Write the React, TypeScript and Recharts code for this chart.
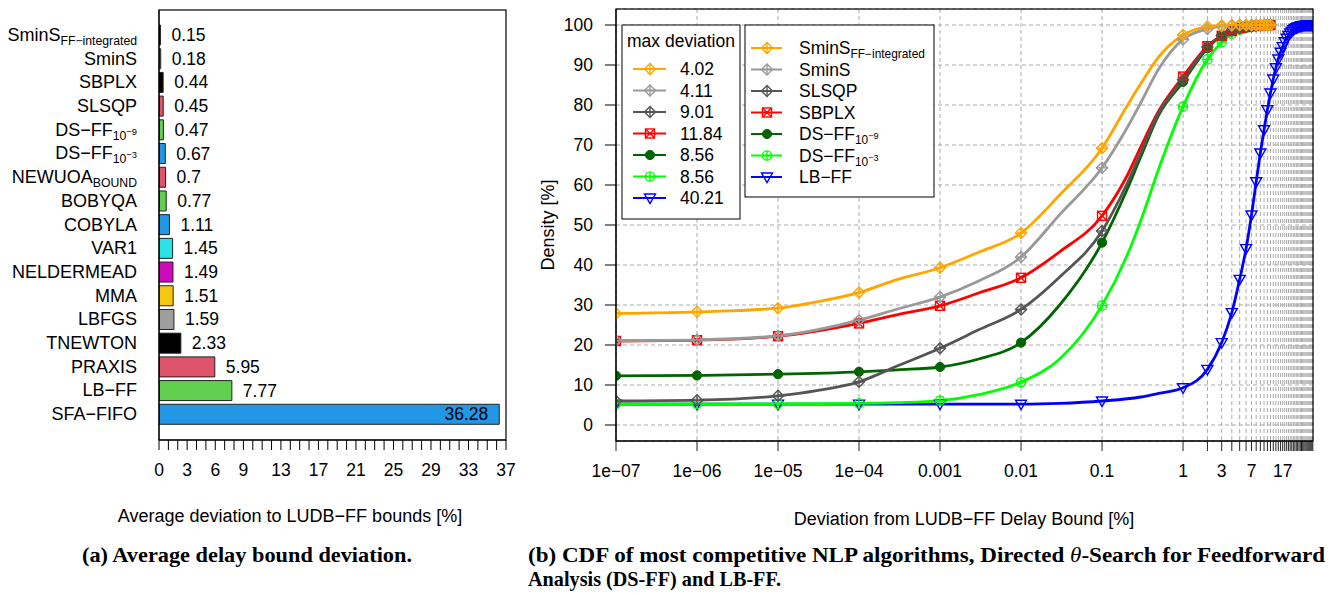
import React from 'react';
import { BarChart, Bar, XAxis, YAxis, Cell, LabelList, LineChart, Line, CartesianGrid } from 'recharts';

const FONT = '"Liberation Sans", Arial, Helvetica, sans-serif';
const SERIF = '"Liberation Serif", "Times New Roman", serif';

// ---------- Left panel data ----------
const BAR_CATEGORIES = [
  'SminS_FF−integrated', 'SminS', 'SBPLX', 'SLSQP', 'DS−FF_10^−9', 'DS−FF_10^−3',
  'NEWUOA_BOUND', 'BOBYQA', 'COBYLA', 'VAR1', 'NELDERMEAD', 'MMA', 'LBFGS',
  'TNEWTON', 'PRAXIS', 'LB−FF', 'SFA−FIFO',
];
const BAR_VALUES = [0.15, 0.18, 0.44, 0.45, 0.47, 0.67, 0.7, 0.77, 1.11, 1.45, 1.49, 1.51, 1.59, 2.33, 5.95, 7.77, 36.28];
const BAR_COLORS = [
  '#000000', '#9E9E9E', '#000000', '#DF536B', '#61D04F', '#2297E6', '#DF536B', '#61D04F',
  '#2297E6', '#28E2E5', '#CD0BBC', '#F5C710', '#9E9E9E', '#000000', '#DF536B', '#61D04F', '#2297E6',
];
const BAR_TICKS = Array.from({ length: 38 }, (_, i) => i);
const BAR_TICK_LABELS = [0, 3, 6, 9, 13, 17, 21, 25, 29, 33, 37];

// ---------- Right panel data ([deviation %, density %]) ----------
const SMINS_FF_CDF: [number, number][] = [
  [1e-7, 27.9], [1e-6, 28.3], [1e-5, 29.2], [3e-5, 30.8], [1e-4, 33.1], [3e-4, 36.4], [1e-3, 39.3],
  [3e-3, 43.2], [1e-2, 48.0], [3e-2, 57.5], [0.1, 69.2], [0.2, 79.5], [0.3, 85.3], [0.5, 92.0],
  [1, 97.5], [2, 99.6], [3, 99.9], [4, 100], [5, 100], [6, 100], [7, 100], [8, 100], [9, 100],
  [10, 100], [11, 100], [12, 100],
];
const SMINS_CDF: [number, number][] = [
  [1e-7, 21.1], [1e-6, 21.3], [1e-5, 22.3], [3e-5, 23.8], [1e-4, 26.2], [3e-4, 29.0], [1e-3, 32.0],
  [3e-3, 36.0], [1e-2, 42.0], [3e-2, 52.6], [0.1, 64.3], [0.2, 74.0], [0.3, 80.5], [0.5, 89.0],
  [1, 96.4], [2, 99.0], [3, 99.7], [4, 99.9], [5, 100], [6, 100], [7, 100], [8, 100], [9, 100],
  [10, 100], [11, 100], [12, 100],
];
const SLSQP_CDF: [number, number][] = [
  [1e-7, 6.0], [1e-6, 6.2], [1e-5, 7.3], [3e-5, 8.6], [1e-4, 10.8], [3e-4, 14.8], [1e-3, 19.2],
  [3e-3, 23.8], [1e-2, 28.9], [3e-2, 37.0], [0.1, 48.5], [0.2, 60.0], [0.3, 68.0], [0.5, 78.0],
  [1, 86.3], [2, 94.5], [3, 97.4], [4, 98.6], [5, 99.2], [6, 99.5], [7, 99.7], [8, 99.8], [9, 99.9],
  [10, 100], [11, 100], [12, 100],
];
const SBPLX_CDF: [number, number][] = [
  [1e-7, 21.0], [1e-6, 21.2], [1e-5, 22.2], [3e-5, 23.5], [1e-4, 25.4], [3e-4, 27.6], [1e-3, 29.8],
  [3e-3, 33.0], [1e-2, 36.8], [3e-2, 43.3], [0.1, 52.3], [0.2, 62.0], [0.3, 69.5], [0.5, 78.5],
  [1, 87.1], [2, 94.7], [3, 97.3], [4, 98.5], [5, 99.2], [6, 99.5], [7, 99.7], [8, 99.8], [9, 99.9],
  [10, 99.95], [11, 100], [12, 100],
];
const DSFF9_CDF: [number, number][] = [
  [1e-7, 12.3], [1e-6, 12.4], [1e-5, 12.7], [1e-4, 13.3], [3e-4, 13.8], [1e-3, 14.5],
  [3e-3, 16.5], [1e-2, 20.6], [3e-2, 30.0], [0.1, 45.6], [0.2, 58.5], [0.3, 67.0], [0.5, 77.5],
  [1, 85.8], [2, 94.2], [3, 97.3], [4, 98.6], [5, 99.3], [6, 99.6], [7, 99.8], [8, 99.9], [9, 100],
  [10, 100], [11, 100], [12, 100],
];
const DSFF3_CDF: [number, number][] = [
  [1e-7, 5.3], [1e-6, 5.3], [1e-5, 5.3], [1e-4, 5.4], [3e-4, 5.6], [1e-3, 6.1],
  [3e-3, 7.6], [1e-2, 10.7], [3e-2, 16.5], [0.1, 29.9], [0.2, 42.0], [0.3, 51.0], [0.5, 64.0],
  [1, 79.6], [2, 91.4], [3, 95.7], [4, 97.8], [5, 98.8], [6, 99.3], [7, 99.6], [8, 99.8], [9, 99.9],
  [10, 100], [11, 100], [12, 100],
];
const LBFF_CDF: [number, number][] = [
  [1e-7, 5.2], [1e-6, 5.2], [1e-5, 5.2], [1e-4, 5.2], [1e-3, 5.2], [1e-2, 5.2], [3e-2, 5.4],
  [0.1, 6.0], [0.3, 7.0], [0.5, 7.9], [1, 9.3], [2, 13.9], [3, 20.6], [4, 28.1], [5, 36.4],
  [6, 44.1], [7, 52.5], [8, 60.8], [9, 68.0], [10, 73.8], [11, 78.8], [12, 83.0], [13, 86.5],
  [14, 89.3], [15, 91.5], [16, 93.2], [17, 94.6], [18, 95.8], [19, 96.7], [20, 97.4], [21, 98.0],
  [22, 98.4], [23, 98.8], [24, 99.1], [25, 99.3], [26, 99.5], [27, 99.6], [28, 99.7], [29, 99.8],
  [30, 99.85], [31, 99.9], [32, 99.9], [33, 99.95], [34, 100], [35, 100], [36, 100], [37, 100],
  [38, 100], [39, 100], [40, 100], [40.21, 100],
];

const SERIES_DATA = [SMINS_FF_CDF, SMINS_CDF, SLSQP_CDF, SBPLX_CDF, DSFF9_CDF, DSFF3_CDF, LBFF_CDF];
const SERIES_NAMES = ['SminS_FF−integrated', 'SminS', 'SLSQP', 'SBPLX', 'DS−FF_10^−9', 'DS−FF_10^−3', 'LB−FF'];
const SERIES_MAX_DEV = ['4.02', '4.11', '9.01', '11.84', '8.56', '8.56', '40.21'];
const SERIES_COLORS = ['#FFA500', '#999999', '#555555', '#FF0000', '#006400', '#00FF00', '#0000FF'];
const SERIES_MARKERS = ['diamondPlus', 'diamondPlus', 'diamondPlus', 'squareX', 'dot', 'circlePlus', 'triDown'];

const CDF_DECADES = [1e-7, 1e-6, 1e-5, 1e-4, 1e-3, 1e-2, 1e-1];
const CDF_INTEGERS = Array.from({ length: 40 }, (_, i) => i + 1);
const CDF_TICKS = [...CDF_DECADES, ...CDF_INTEGERS];
const CDF_LABEL_VALUES = [1e-7, 1e-6, 1e-5, 1e-4, 1e-3, 1e-2, 1e-1, 1, 3, 7, 17];
const CDF_LABEL_TEXTS = ['1e−07', '1e−06', '1e−05', '1e−04', '0.001', '0.01', '0.1', '1', '3', '7', '17'];
const Y_TICKS = [0, 10, 20, 30, 40, 50, 60, 70, 80, 90, 100];

// ---------- helpers ----------
const near = (a: number, b: number) => Math.abs(a - b) <= Math.abs(b) * 1e-9;
const isMarkerX = (x: number) => CDF_TICKS.some((t) => near(x, t));

function richText(str: string, x: number, y: number, anchor: string, fs: number, key?: string) {
  const [main, rest] = str.split('_');
  let sub: string | undefined;
  let sup: string | undefined;
  if (rest) {
    [sub, sup] = rest.split('^');
  }
  return (
    <text key={key} x={x} y={y} textAnchor={anchor} fontSize={fs} fontFamily={FONT} fill="#000">
      <tspan>{main}</tspan>
      {sub && <tspan dy={4} fontSize={fs * 0.68}>{sub}</tspan>}
      {sup && <tspan dy={-5} fontSize={fs * 0.52}>{sup}</tspan>}
    </text>
  );
}

function drawMarker(kind: string, cx: number, cy: number, color: string) {
  const sw = 1.4;
  switch (kind) {
    case 'diamondPlus': {
      const r = 5.5;
      return (
        <g>
          <polygon points={`${cx},${cy - r} ${cx + r},${cy} ${cx},${cy + r} ${cx - r},${cy}`} fill="none" stroke={color} strokeWidth={sw} />
          <line x1={cx - r} y1={cy} x2={cx + r} y2={cy} stroke={color} strokeWidth={sw} />
          <line x1={cx} y1={cy - r} x2={cx} y2={cy + r} stroke={color} strokeWidth={sw} />
        </g>
      );
    }
    case 'squareX': {
      const h = 4.5;
      return (
        <g>
          <rect x={cx - h} y={cy - h} width={2 * h} height={2 * h} fill="none" stroke={color} strokeWidth={sw} />
          <line x1={cx - h} y1={cy - h} x2={cx + h} y2={cy + h} stroke={color} strokeWidth={sw} />
          <line x1={cx - h} y1={cy + h} x2={cx + h} y2={cy - h} stroke={color} strokeWidth={sw} />
        </g>
      );
    }
    case 'dot':
      return <circle cx={cx} cy={cy} r={4.6} fill={color} stroke={color} strokeWidth={1} />;
    case 'circlePlus': {
      const r = 4.6;
      return (
        <g>
          <circle cx={cx} cy={cy} r={r} fill="none" stroke={color} strokeWidth={sw} />
          <line x1={cx - r} y1={cy} x2={cx + r} y2={cy} stroke={color} strokeWidth={sw} />
          <line x1={cx} y1={cy - r} x2={cx} y2={cy + r} stroke={color} strokeWidth={sw} />
        </g>
      );
    }
    case 'triDown':
    default:
      return (
        <polygon
          points={`${cx - 5.5},${cy - 4} ${cx + 5.5},${cy - 4} ${cx},${cy + 5.5}`}
          fill="none"
          stroke={color}
          strokeWidth={sw}
        />
      );
  }
}

const makeDot = (kind: string, color: string) => (props: any) => {
  const { cx, cy, payload, index } = props;
  if (cx == null || cy == null || !payload || !isMarkerX(payload.x)) return <g key={`e${index}`} />;
  return <g key={`m${index}`}>{drawMarker(kind, cx, cy, color)}</g>;
};

// ---------- axis ticks ----------
const BarXTick = (props: any) => {
  const { x, y, payload } = props;
  if (!BAR_TICK_LABELS.includes(payload.value)) return <g />;
  return (
    <text x={x} y={y + 24} textAnchor="middle" fontSize={17.5} fontFamily={FONT} fill="#000">
      {payload.value}
    </text>
  );
};

const BarYTick = (props: any) => {
  const { x, y, payload } = props;
  return richText(String(payload.value), x, y + 6, 'end', 18);
};

const CdfXTick = (props: any) => {
  const { x, y, payload } = props;
  const idx = CDF_LABEL_VALUES.findIndex((v) => near(payload.value, v));
  if (idx < 0) return <g />;
  return (
    <text x={x} y={y + 24} textAnchor="middle" fontSize={17.5} fontFamily={FONT} fill="#000">
      {CDF_LABEL_TEXTS[idx]}
    </text>
  );
};

const BarValueLabel = (props: any) => {
  const { x, y, width, height, value } = props;
  const inside = value > 30;
  return (
    <text
      x={inside ? x + width - 11 : x + width + 11}
      y={y + height / 2 + 6}
      textAnchor={inside ? 'end' : 'start'}
      fontSize={17.5}
      fontFamily={FONT}
      fill="#000"
    >
      {value}
    </text>
  );
};

// ---------- layout constants ----------
const LEFT_BOX = { x: 159, y: 10, w: 347, h: 430 };
const RIGHT_BOX = { x: 616, y: 9, w: 697, h: 432 };

export default function App() {
  const barData = BAR_CATEGORIES.map((name, i) => ({ name, value: BAR_VALUES[i] }));
  const order = [6, 5, 4, 3, 2, 1, 0];

  return (
    <div style={{ position: 'absolute', left: 0, top: 0, width: 1335, height: 594, background: '#fff', fontFamily: FONT }}>
      <div style={{ position: 'absolute', left: 0, top: 0 }}>
        <BarChart width={530} height={500} data={barData} layout="vertical" margin={{ top: 10, right: 24, bottom: 30, left: 0 }}>
          <XAxis
            type="number"
            domain={[0, 37]}
            ticks={BAR_TICKS}
            interval={0}
            tickSize={10}
            height={30}
            axisLine={{ stroke: '#000' }}
            tickLine={{ stroke: '#000' }}
            tick={BarXTick}
            allowDataOverflow
          />
          <YAxis
            type="category"
            dataKey="name"
            width={159}
            tickSize={0}
            tickMargin={22}
            tickLine={false}
            axisLine={{ stroke: '#000' }}
            interval={0}
            padding={{ top: 13, bottom: 14 }}
            tick={BarYTick}
          />
          <Bar dataKey="value" barSize={20} stroke="#222" strokeWidth={1} isAnimationActive={false}>
            {barData.map((d, i) => (
              <Cell key={d.name} fill={BAR_COLORS[i]} />
            ))}
            <LabelList dataKey="value" content={BarValueLabel} />
          </Bar>
        </BarChart>
      </div>

      <div style={{ position: 'absolute', left: 530, top: 0 }}>
        <LineChart width={805} height={500} margin={{ top: 9, right: 22, bottom: 29, left: 0 }}>
          <CartesianGrid stroke="#aaaaaa" strokeDasharray="4 3" strokeWidth={1} />
          <XAxis
            dataKey="x"
            type="number"
            scale="log"
            domain={[1e-7, 40.21]}
            allowDataOverflow
            ticks={CDF_TICKS}
            interval={0}
            tickSize={10}
            height={30}
            axisLine={{ stroke: '#000' }}
            tickLine={{ stroke: '#222' }}
            tick={CdfXTick}
          />
          <YAxis
            type="number"
            domain={[-4, 104]}
            ticks={Y_TICKS}
            interval={0}
            width={86}
            tickSize={11}
            tickMargin={12}
            axisLine={{ stroke: '#000' }}
            tickLine={{ stroke: '#000' }}
            tick={{ fontSize: 17.5, fill: '#000', fontFamily: FONT }}
            allowDataOverflow
          />
          {order.map((i) => (
            <Line
              key={SERIES_NAMES[i]}
              data={SERIES_DATA[i].map(([x, y]) => ({ x, y }))}
              dataKey="y"
              type="monotone"
              stroke={SERIES_COLORS[i]}
              strokeWidth={2.8}
              dot={makeDot(SERIES_MARKERS[i], SERIES_COLORS[i])}
              activeDot={false}
              isAnimationActive={false}
            />
          ))}
        </LineChart>
      </div>

      <svg width={1335} height={594} style={{ position: 'absolute', left: 0, top: 0, pointerEvents: 'none' }}>
        <rect x={LEFT_BOX.x} y={LEFT_BOX.y} width={LEFT_BOX.w} height={LEFT_BOX.h} fill="none" stroke="#000" strokeWidth={1.2} />
        <rect x={RIGHT_BOX.x} y={RIGHT_BOX.y} width={RIGHT_BOX.w} height={RIGHT_BOX.h} fill="none" stroke="#000" strokeWidth={1.2} />

        {/* legend: max deviation */}
        <rect x={622} y={25} width={118} height={194} fill="#fff" stroke="#000" strokeWidth={1} />
        <text x={627} y={47} fontSize={17.5} fontFamily={FONT} fill="#000">max deviation</text>
        {SERIES_MAX_DEV.map((t, i) => {
          const cy = 69 + i * 21.5;
          return (
            <g key={`md${i}`}>
              <line x1={633} y1={cy} x2={666} y2={cy} stroke={SERIES_COLORS[i]} strokeWidth={2} />
              {drawMarker(SERIES_MARKERS[i], 650, cy, SERIES_COLORS[i])}
              <text x={680} y={cy + 6} fontSize={17.5} fontFamily={FONT} fill="#000">{t}</text>
            </g>
          );
        })}

        {/* legend: names */}
        <rect x={745} y={25} width={189} height={172} fill="#fff" stroke="#000" strokeWidth={1} />
        {SERIES_NAMES.map((t, i) => {
          const cy = 48 + i * 21.5;
          return (
            <g key={`nm${i}`}>
              <line x1={751} y1={cy} x2={782} y2={cy} stroke={SERIES_COLORS[i]} strokeWidth={2} />
              {drawMarker(SERIES_MARKERS[i], 767, cy, SERIES_COLORS[i])}
              {richText(t, 799, cy + 6, 'start', 17.5)}
            </g>
          );
        })}

        {/* axis titles */}
        <text x={290} y={522} textAnchor="middle" fontSize={18} fontFamily={FONT} fill="#000">
          Average deviation to LUDB−FF bounds [%]
        </text>
        <text x={964} y={525} textAnchor="middle" fontSize={18} fontFamily={FONT} fill="#000">
          Deviation from LUDB−FF Delay Bound [%]
        </text>
        <text x={554} y={225} textAnchor="middle" fontSize={18} fontFamily={FONT} fill="#000" transform="rotate(-90 554 225)">
          Density [%]
        </text>

        {/* captions */}
        <text x={82} y={562} fontSize={21} fontWeight="bold" fontFamily={SERIF} fill="#000" textLength={330} lengthAdjust="spacingAndGlyphs">
          (a) Average delay bound deviation.
        </text>
        <text x={528} y={562} fontSize={21} fontWeight="bold" fontFamily={SERIF} fill="#000" textLength={797} lengthAdjust="spacingAndGlyphs">
          (b) CDF of most competitive NLP algorithms, Directed <tspan fontStyle="italic" fontWeight="normal">θ</tspan>-Search for Feedforward
        </text>
        <text x={528} y={586} fontSize={21} fontWeight="bold" fontFamily={SERIF} fill="#000" textLength={253} lengthAdjust="spacingAndGlyphs">
          Analysis (DS-FF) and LB-FF.
        </text>
      </svg>
    </div>
  );
}
